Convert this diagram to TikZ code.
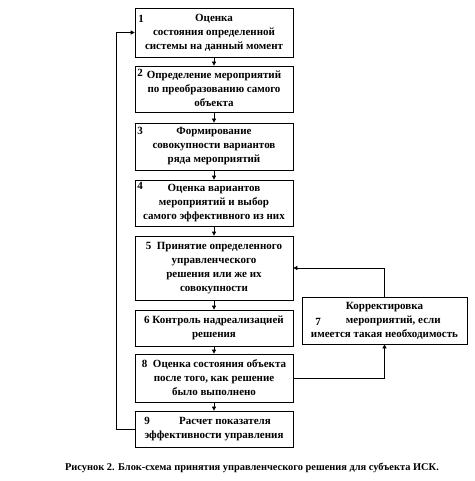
\documentclass[tikz,border=0pt]{standalone}
\usepackage{fontspec}
\setmainfont{Liberation Serif}
\usetikzlibrary{positioning, arrows.meta, calc}
\tikzset{
  block/.style={draw, line width=0.7pt, minimum width=158pt, align=center, inner sep=0pt,
    font=\fontsize{11}{14}\selectfont\bfseries},
  num/.style={font=\fontsize{11}{14}\selectfont\bfseries, inner sep=0pt},
  arr/.style={-{Triangle[length=4pt,width=4pt]}, line width=0.7pt},
  caption/.style={font=\fontsize{10.4}{12}\selectfont\bfseries, inner sep=0pt}
}
\begin{document}
\begin{tikzpicture}[x=1pt,y=-1pt]
\useasboundingbox (0,0) rectangle (474,481);
\node[block, minimum height=49pt] (b1) at (214,32.5) {Оценка\\состояния определенной\\системы на данный момент};
\node[block, minimum height=46pt] (b2) at (214,89) {Определение мероприятий\\по преобразованию самого\\объекта};
\node[block, minimum height=47pt] (b3) at (214,146.5) {Формирование\\совокупности вариантов\\ряда мероприятий};
\node[block, minimum height=46pt] (b4) at (214,203) {Оценка вариантов\\мероприятий и выбор\\самого эффективного  из них};
\node[block, minimum height=64pt] (b5) at (214,268) {5\ \ Принятие определенного\\управленческого\\решения или же их\\совокупности};
\node[block, minimum height=36pt] (b6) at (214,328) {6\ Контроль надреализацией\\решения};
\node[block, minimum height=48pt] (b8) at (214,378) {8\ \ Оценка состояния объекта\\после того, как решение\\было выполнено};
\node[block, minimum height=36pt] (b9) at (214,429) {\hspace*{2em}Расчет показателя\\эффективности управления};
\node[block, minimum width=165pt, minimum height=47pt] (b7) at (384.5,320.5) {Корректировка\\\hspace*{1.6em}мероприятий, если\\имеется такая необходимость};
% numbers
\node[num] (n1) at (141,19) {1};
\node[num] (n2) at (140,73) {2};
\node[num] (n3) at (140,131) {3};
\node[num] (n4) at (140,186) {4};
\node[num] (n9) at (147,421) {9};
\node[num] (n7) at (318,322) {7};
% main chain
\draw[arr] (b1) -- (b2);
\draw[arr] (b2) -- (b3);
\draw[arr] (b3) -- (b4);
\draw[arr] (b4) -- (b5);
\draw[arr] (b5) -- (b6);
\draw[arr] (b6) -- (b8);
\draw[arr] (b8) -- (b9);
% feedback
\coordinate (lft) at (116,429);
\draw[arr] (b9.west) -- (lft) |- (b1.west);
\draw[arr] (b8.east) -| (b7.south);
\draw[arr] (b7.north) |- (b5.east);
\node[caption] (cap) at (252,468) {Рисунок 2. Блок-схема принятия управленческого решения для субъекта ИСК.};
\end{tikzpicture}
\end{document}
